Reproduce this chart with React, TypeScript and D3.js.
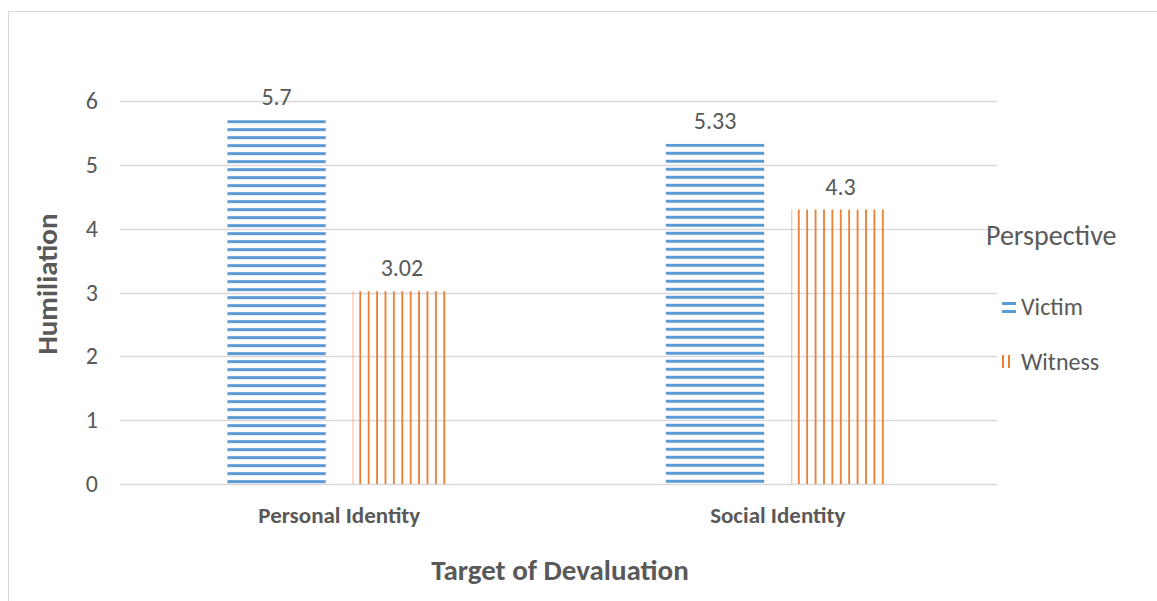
import React from "react";
import {scaleBand, scaleLinear} from "d3";

// chart values
const categories = ["Personal Identity", "Social Identity"];
const seriesNames = ["Victim", "Witness"];
const victimValues = [5.7, 5.33];
const witnessValues = [3.02, 4.3];
const yTicks = [0, 1, 2, 3, 4, 5, 6];

const colors = ["#5B9BD5", "#ED7D31"];
const textColor = "#595959";
const font = "Carlito, Calibri, Lato, 'Open Sans', sans-serif";

function App() {
    const width = 1157;
    const height = 601;

    const xScale = scaleBand().domain(categories).range([120, 997]);
    const yScale = scaleLinear().domain([0, 6]).range([484, 101]);
    const bw = xScale.bandwidth();
    const seriesScale = scaleBand()
        .domain(seriesNames)
        .range([bw * 0.245, bw * 0.755])
        .paddingInner(0.216);

    const allValues = [victimValues, witnessValues];

    const bars = [];
    categories.forEach((cat, ci) => {
        seriesNames.forEach((s, si) => {
            const v = allValues[si][ci];
            const x = xScale(cat) + seriesScale(s);
            const y = yScale(v);
            bars.push({id: `p-${ci}-${si}`, si, v, x, y, w: seriesScale.bandwidth(), h: yScale(0) - y});
        });
    });

    return (
        <svg width={width} height={height} style={{position: "absolute", left: 0, top: 0, background: "#fff"}}
             fontFamily={font}>
            <defs>
                {bars.map(b => b.si === 0 ? (
                    <pattern key={b.id} id={b.id} patternUnits="userSpaceOnUse" x={b.x} y={b.y} width={8} height={8}>
                        <rect x={0} y={0} width={8} height={3} fill={colors[0]}/>
                    </pattern>
                ) : (
                    <pattern key={b.id} id={b.id} patternUnits="userSpaceOnUse" x={b.x} y={b.y} width={8.4} height={8}>
                        <rect x={6.6} y={0} width={2.2} height={8} fill={colors[1]}/>
                    </pattern>
                ))}
            </defs>

            {/* chart border */}
            <rect x={8.5} y={11.5} width={1160} height={620} fill="#fff" stroke="#D9D9D9"/>

            {/* gridlines */}
            {yTicks.map(t => (
                <g key={t}>
                    <line x1={120} x2={997} y1={Math.round(yScale(t)) + 0.5} y2={Math.round(yScale(t)) + 0.5}
                          stroke="#D9D9D9" strokeWidth={1.3}/>
                    <text x={98} y={yScale(t) + 8} textAnchor="end" fontSize={24} fill={textColor}>{t}</text>
                </g>
            ))}

            {/* bars */}
            {bars.map(b => (
                <g key={b.id}>
                    <rect x={b.x} y={b.y} width={b.w} height={b.h} fill={`url(#${b.id})`}/>
                    {b.si === 1 && <line x1={b.x + 0.5} x2={b.x + 0.5} y1={b.y} y2={b.y + b.h}
                                         stroke={colors[1]} strokeOpacity={0.25} strokeWidth={1.5}/>}
                    <text x={b.x + b.w / 2} y={b.y - 15} textAnchor="middle" fontSize={24}
                          fill={textColor}>{b.v}</text>
                </g>
            ))}

            {/* category labels */}
            {categories.map(c => (
                <text key={c} x={xScale(c) + bw / 2} y={523} textAnchor="middle"
                      fontSize={23} fontWeight="bold" fill={textColor}>{c}</text>
            ))}

            {/* axis titles */}
            <text x={560} y={580} textAnchor="middle" fontSize={29} fontWeight="bold" fill={textColor}>
                Target of Devaluation
            </text>
            <text transform="translate(57,284) rotate(-90)" textAnchor="middle" fontSize={29} fontWeight="bold"
                  fill={textColor}>Humiliation
            </text>

            {/* legend */}
            <text x={986} y={245} fontSize={28} fill={textColor}>Perspective</text>
            <rect x={1002} y={302} width={14} height={3} fill={colors[0]}/>
            <rect x={1002} y={310} width={14} height={3} fill={colors[0]}/>
            <text x={1021} y={315} fontSize={24} fill={textColor}>Victim</text>
            <rect x={1002} y={355} width={2} height={13} fill={colors[1]}/>
            <rect x={1008} y={355} width={2} height={13} fill={colors[1]}/>
            <text x={1021} y={370} fontSize={24} fill={textColor}>Witness</text>
        </svg>
    );
}

export default App;
